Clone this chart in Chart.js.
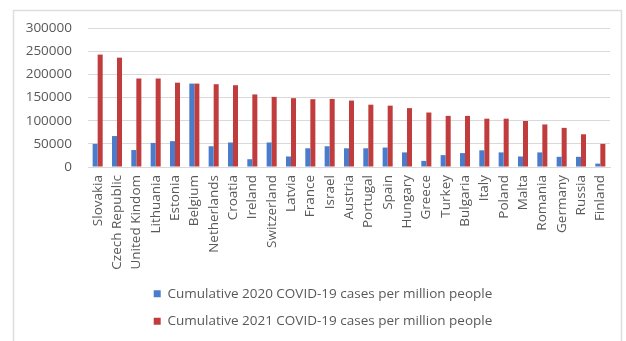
<!DOCTYPE html>
<html>
<head>
<meta charset="utf-8">
<script src="https://cdn.jsdelivr.net/npm/chart.js@4.4.1/dist/chart.umd.min.js"></script>
<style>
  html, body { margin: 0; padding: 0; background: #ffffff; }
  #wrap { position: relative; width: 626px; height: 341px; }
</style>
</head>
<body>
<div id="wrap"><canvas id="c" width="626" height="341"></canvas></div>
<script>
// Countries, ordered by 2021 cumulative cases
const countries = ["Slovakia", "Czech Republic", "United Kindom", "Lithuania", "Estonia", "Belgium",
  "Netherlands", "Croatia", "Ireland", "Switzerland", "Latvia", "France", "Israel", "Austria",
  "Portugal", "Spain", "Hungary", "Greece", "Turkey", "Bulgaria", "Italy", "Poland", "Malta",
  "Romania", "Germany", "Russia", "Finland"];

// Cumulative COVID-19 cases per million people
const cases2020 = [49900, 66800, 36600, 52000, 55800, 180000, 44800, 52900, 16800, 52900, 22700,
  40400, 44800, 40400, 40400, 41900, 31500, 13200, 25600, 30000, 36000, 31500, 22700, 31500,
  22000, 22000, 7300];
const cases2021 = [242600, 236000, 191000, 191000, 182000, 180000, 178700, 176500, 156600, 151300,
  148500, 146300, 146900, 143400, 134500, 132400, 127100, 117600, 110300, 110300, 104300, 104300,
  99300, 91800, 84500, 70600, 49900];

const yTicks = [0, 50000, 100000, 150000, 200000, 250000, 300000];

const seriesNames = ["Cumulative 2020 COVID-19 cases per million people",
  "Cumulative 2021 COVID-19 cases per million people"];

// Light outer frame around the chart
const framePlugin = {
  id: 'frame',
  beforeDraw(chart) {
    const ctx = chart.ctx;
    ctx.save();
    ctx.fillStyle = '#ffffff';
    ctx.fillRect(0, 0, chart.width, chart.height);
    ctx.strokeStyle = '#dedede';
    ctx.lineWidth = 1.5;
    ctx.strokeRect(13.5, 10.5, 608, 340);
    ctx.restore();
  }
};

// Nudge the stacked legend a little to the right and up
const legendShift = {
  id: 'legendShift',
  afterLayout(chart) {
    const lg = chart.legend;
    if (!lg) return;
    lg.left += 11; lg.right += 11;
    lg.top -= 3; lg.bottom -= 3;
  }
};

const FONT = "'Open Sans', 'Liberation Sans', sans-serif";

new Chart(document.getElementById('c'), {
  type: 'bar',
  data: {
    labels: countries,
    datasets: [
      { label: seriesNames[0], data: cases2020, backgroundColor: '#4a7ccb' },
      { label: seriesNames[1], data: cases2021, backgroundColor: '#c13d3d' }
    ]
  },
  options: {
    responsive: false,
    animation: false,
    devicePixelRatio: 1,
    layout: { padding: { top: 28, left: 14, right: 16, bottom: 0 } },
    datasets: { bar: { categoryPercentage: 0.52, barPercentage: 1.0 } },
    scales: {
      x: {
        afterFit(axis) { axis.height = 109; },
        grid: { display: false, drawTicks: false },
        border: { display: true, color: '#d9d9d9' },
        ticks: {
          autoSkip: false, maxRotation: 90, minRotation: 90, padding: 8,
          color: '#595959', font: { family: FONT, size: 13.5 }
        }
      },
      y: {
        min: 0, max: 300000,
        afterFit(axis) { axis.width = 74; },
        afterBuildTicks(axis) { axis.ticks = yTicks.map(v => ({ value: v })); },
        grid: { color: '#d9d9d9', drawTicks: false },
        border: { display: false },
        ticks: {
          padding: 16, color: '#595959', font: { family: FONT, size: 13.5 },
          callback: v => String(v)
        }
      }
    },
    plugins: {
      tooltip: { enabled: false },
      legend: {
        position: 'bottom',
        labels: {
          boxWidth: 7, boxHeight: 7, padding: 14,
          color: '#595959', font: { family: FONT, size: 13.5 }
        }
      }
    }
  },
  plugins: [framePlugin, legendShift]
});
</script>
</body>
</html>
